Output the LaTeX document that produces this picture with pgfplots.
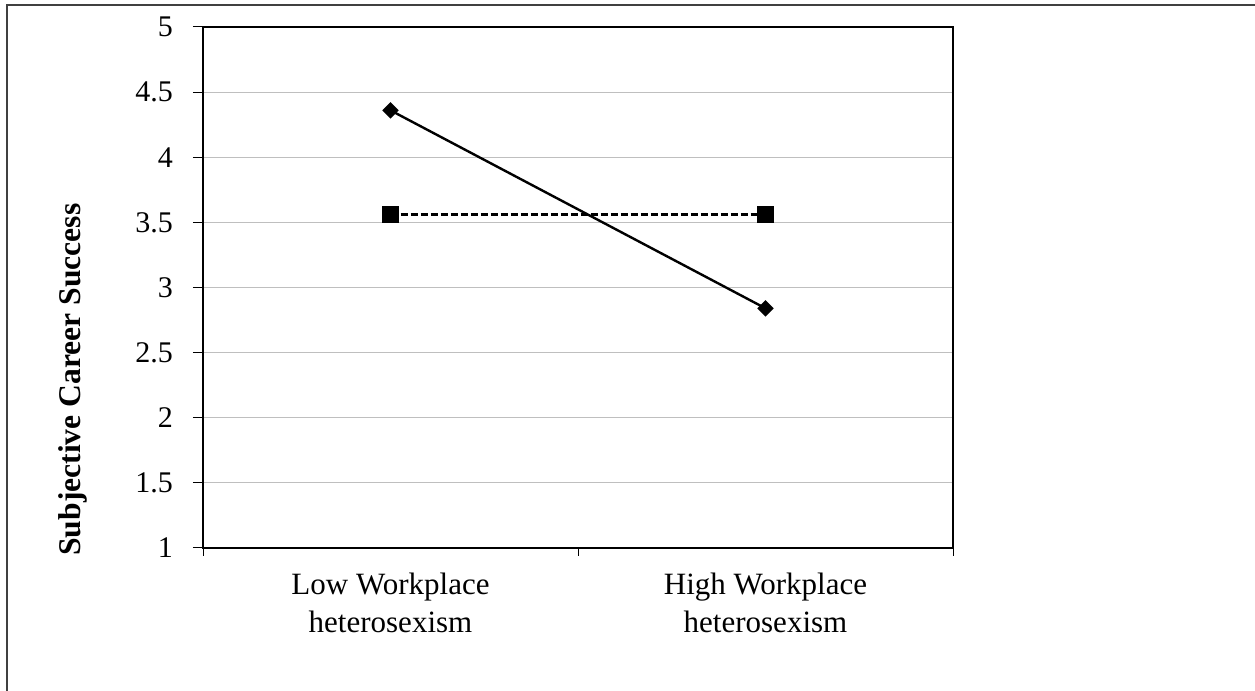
\documentclass[border=0pt]{standalone}
\usepackage{pgfplots}
\pgfplotsset{compat=1.18}
\usepackage{fontspec}
\setmainfont{Liberation Serif}
\definecolor{gridgray}{HTML}{BFBFBF}
\definecolor{framegray}{HTML}{404040}
\begin{document}
\begin{tikzpicture}[x=1pt,y=1pt]
\useasboundingbox (0,0) rectangle (627.5,345.5);
\draw[framegray, line width=0.8pt] (3.5,-20) -- (3.5,343) -- (660,343);
\begin{axis}[
  at={(101.5pt,71.5pt)}, anchor=south west,
  scale only axis, width=375pt, height=260.5pt,
  xmin=0, xmax=2, ymin=1, ymax=5,
  axis line style={line width=1pt, black},
  xtick pos=bottom, ytick pos=left,
  xtick={0.5,1.5},
  xticklabels={{Low Workplace\\heterosexism},{High Workplace\\heterosexism}},
  xticklabel style={align=center, font=\fontsize{15.5}{19}\selectfont, yshift=-4pt},
  major x tick style={draw=none},
  minor xtick={0,1,2},
  minor x tick style={black, line width=0.5pt},
  minor tick length=4pt,
  ytick={1,1.5,...,5},
  yticklabel={\pgfmathprintnumber[assume math mode=true]{\tick}},
  every y tick label/.append style={font=\fontsize{15}{18}\selectfont, xshift=-6.5pt},
  major tick length=5pt,
  tick align=outside,
  y tick style={black, line width=0.5pt},
  ymajorgrids, grid style={gridgray, line width=0.5pt},
  ylabel={\textbf{Subjective Career Success}},
  every axis y label/.append style={font=\fontsize{15.8}{18}\selectfont, at={(axis description cs:-0.1627,0.3234)}, anchor=base, rotate=0},
  clip=false,
]
\addplot[black, line width=1.2pt, mark=square*, mark size=2.3pt, mark options={solid, rotate=45}] coordinates {(0.5,4.36) (1.5,2.84)};
\addplot[black, line width=1.1pt, dash pattern=on 3.5pt off 1.5pt, mark=square*, mark size=3.6pt, mark options={solid}] coordinates {(0.5,3.56) (1.5,3.56)};
\end{axis}
\end{tikzpicture}
\end{document}
